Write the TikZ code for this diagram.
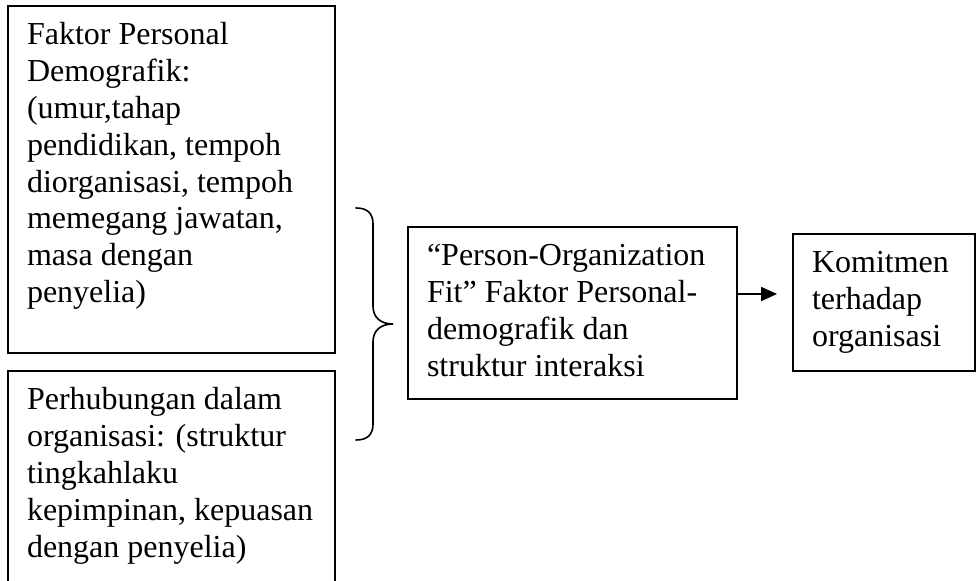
\documentclass[tikz,border=0pt]{standalone}
\usepackage{fontspec}
\setmainfont{Liberation Serif}
\usetikzlibrary{arrows.meta}

\tikzset{
	kotak/.style={draw, line width=1pt, outer sep=0pt, anchor=north west,
		inner xsep=9.5pt, inner ysep=6.6pt, font=\fontsize{16}{18.4}\selectfont},
	kurung/.style={line width=0.8pt, line cap=round},
	panah/.style={line width=1pt, -{Triangle[length=8pt,width=7pt]}},
}
\newcommand{\isi}[3]{\parbox[t][#1][t]{#2}{\raggedright\strut #3}}

\begin{document}
\begin{tikzpicture}[x=0.5pt, y=-0.5pt]
			\useasboundingbox (0,0) rectangle (977,581);
			\clip (0,0) rectangle (977,581);
			
			\node[kotak] (demo) at (8,6) {\isi{160.3pt}{144.5pt}{Faktor Personal\\ Demografik:\\ (umur,tahap\\ pendidikan, tempoh\\ diorganisasi, tempoh\\ memegang jawatan,\\ masa dengan\\ penyelia)}};
			\node[kotak] (hubung) at (8,371) {\isi{111.3pt}{144.5pt}{Perhubungan dalam\\ organisasi: (struktur\\ tingkahlaku\\ kepimpinan, kepuasan\\ dengan penyelia)}};
			
			\draw[kurung] (356,208) .. controls (367,208) and (373,213) .. (373,224) -- (373,306)
				.. controls (373,317) and (380,324) .. (393,324)
				.. controls (380,324) and (373,331) .. (373,342) -- (373,424)
				.. controls (373,435) and (367,440) .. (356,440);
			
			\node[kotak] (pofit) at (408,227) {\isi{72.8pt}{145.5pt}{“Person-Organization\\ Fit” Faktor Personal-\\ demografik dan\\ struktur interaksi}};
			\node[kotak] (komit) at (793,234) {\isi{55.3pt}{72pt}{Komitmen\\ terhadap\\ organisasi}};
			
			\coordinate (ujung) at (777,294);
			\draw[panah] (pofit.east |- ujung) -- (ujung);
		\end{tikzpicture}
\end{document}
